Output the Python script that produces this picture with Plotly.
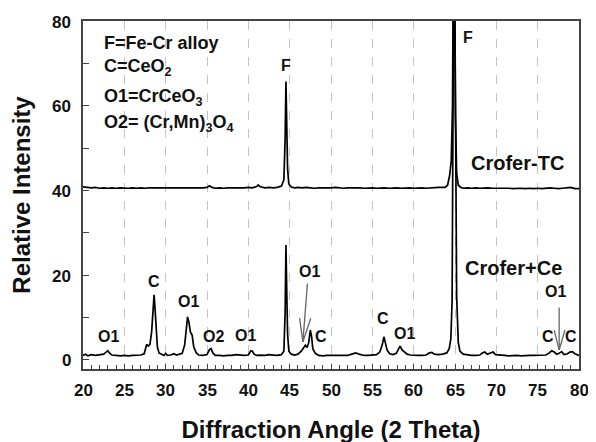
import plotly.graph_objects as go

# Crofer+Ce pattern (2-theta, relative intensity)
crofer_ce_points = [
    (20.0, 1.0), (20.3, 1.3), (20.6, 0.9), (21.0, 1.2), (21.5, 1.0), (22.0, 1.1), (22.5, 1.3),
    (22.8, 1.8), (23.0, 2.1), (23.2, 1.6), (23.5, 1.1), (24.0, 1.0), (24.5, 0.9), (25.0, 1.0),
    (25.5, 0.9), (26.0, 1.0), (26.5, 1.0), (27.0, 1.1), (27.4, 1.4), (27.7, 3.6), (27.9, 3.2),
    (28.1, 3.6), (28.3, 6.5), (28.5, 13.0), (28.6, 15.3), (28.7, 12.5), (28.8, 8.0), (29.0, 3.0),
    (29.2, 1.6), (29.5, 1.2), (29.8, 1.0), (30.0, 1.5), (30.2, 1.0), (30.6, 1.1), (31.0, 1.4),
    (31.3, 1.1), (31.6, 1.3), (32.0, 1.5), (32.3, 3.5), (32.5, 7.5), (32.65, 10.1), (32.8, 9.0),
    (33.0, 6.5), (33.2, 5.8), (33.4, 3.0), (33.7, 1.6), (34.0, 1.1), (34.5, 1.0), (35.0, 1.2),
    (35.3, 2.4), (35.5, 2.6), (35.7, 1.6), (36.0, 1.0), (36.5, 1.0), (37.0, 0.9), (37.5, 1.0),
    (38.0, 1.0), (38.5, 1.2), (39.0, 1.1), (39.5, 1.0), (40.0, 1.1), (40.3, 2.1), (40.5, 2.0),
    (40.7, 1.3), (41.0, 1.0), (41.5, 1.1), (42.0, 1.0), (42.5, 1.2), (43.0, 1.1), (43.5, 1.0),
    (44.0, 1.2), (44.3, 2.0), (44.45, 11.0), (44.55, 27.1), (44.65, 16.0), (44.75, 6.0),
    (44.9, 2.0), (45.2, 1.3), (45.6, 1.1), (46.0, 1.3), (46.4, 2.0), (46.7, 2.8), (46.9, 3.4),
    (47.1, 2.9), (47.3, 4.0), (47.5, 7.0), (47.65, 5.5), (47.8, 2.6), (48.1, 1.5), (48.5, 1.0),
    (49.0, 0.9), (49.5, 1.0), (50.0, 1.0), (50.5, 0.9), (51.0, 1.0), (51.5, 1.0), (52.0, 1.0),
    (52.5, 1.3), (53.0, 1.6), (53.4, 1.3), (54.0, 1.0), (54.5, 1.0), (55.0, 1.1), (55.5, 1.2),
    (55.9, 1.8), (56.2, 3.5), (56.4, 5.4), (56.6, 4.0), (56.8, 2.2), (57.1, 1.4), (57.5, 1.2),
    (57.9, 1.5), (58.2, 2.8), (58.35, 3.2), (58.6, 2.3), (58.9, 1.9), (59.2, 1.3), (59.6, 1.1),
    (60.0, 1.0), (60.5, 1.0), (61.0, 1.0), (61.5, 1.1), (61.9, 1.6), (62.2, 1.7), (62.5, 1.3),
    (63.0, 1.2), (63.5, 1.3), (64.0, 1.6), (64.3, 2.6), (64.5, 5.0), (64.65, 14.0), (64.75, 60.0),
    (64.85, 95.0), (64.95, 95.0), (65.05, 60.0), (65.2, 15.0), (65.4, 4.0), (65.6, 2.0),
    (66.0, 1.3), (66.5, 1.1), (67.0, 1.0), (67.5, 1.0), (68.0, 1.1), (68.3, 1.6), (68.6, 1.8),
    (68.9, 1.3), (69.3, 1.6), (69.6, 1.8), (69.9, 1.2), (70.5, 1.0), (71.0, 1.0), (71.5, 0.9),
    (72.0, 1.0), (72.5, 1.0), (73.0, 0.9), (73.5, 1.0), (74.0, 1.0), (74.5, 1.0), (75.0, 1.0),
    (75.5, 1.0), (76.0, 1.1), (76.4, 1.6), (76.7, 2.1), (77.0, 1.8), (77.3, 1.3), (77.6, 1.5),
    (77.9, 1.9), (78.2, 1.2), (78.6, 1.4), (78.9, 1.8), (79.2, 1.9), (79.5, 1.4), (80.0, 1.0),
]

# Crofer-TC pattern
crofer_tc_points = [
    (20.0, 40.8), (20.5, 40.7), (21.0, 40.6), (21.5, 40.7), (22.0, 40.5), (22.5, 40.6), (23.0, 40.5),
    (23.5, 40.6), (24.0, 40.5), (24.5, 40.6), (25.0, 40.5), (25.5, 40.5), (26.0, 40.6), (26.5, 40.5),
    (27.0, 40.6), (27.5, 40.5), (28.0, 40.6), (28.5, 40.6), (29.0, 40.5), (29.5, 40.6), (30.0, 40.5),
    (30.5, 40.6), (31.0, 40.5), (31.5, 40.6), (32.0, 40.6), (32.5, 40.5), (33.0, 40.6), (33.5, 40.6),
    (34.0, 40.5), (34.5, 40.6), (35.0, 40.7), (35.3, 41.1), (35.6, 40.7), (36.0, 40.5), (36.5, 40.6),
    (37.0, 40.5), (37.5, 40.6), (38.0, 40.6), (38.5, 40.5), (39.0, 40.6), (39.5, 40.6), (40.0, 40.7),
    (40.5, 40.6), (41.0, 40.9), (41.2, 41.3), (41.4, 40.9), (42.0, 40.6), (42.5, 40.7), (43.0, 40.6),
    (43.5, 40.7), (44.0, 41.0), (44.3, 42.5), (44.45, 52.0), (44.55, 65.7), (44.65, 55.0),
    (44.75, 45.0), (44.9, 41.5), (45.2, 40.8), (45.6, 40.6), (46.0, 40.7), (46.5, 40.6), (47.0, 40.7),
    (47.5, 40.6), (48.0, 40.5), (48.5, 40.6), (49.0, 40.6), (49.5, 40.5), (50.0, 40.6), (50.5, 40.7),
    (51.0, 40.6), (51.5, 40.5), (52.0, 40.6), (52.5, 40.6), (53.0, 40.7), (53.5, 40.6), (54.0, 40.5),
    (54.5, 40.6), (55.0, 40.6), (55.5, 40.5), (56.0, 40.6), (56.5, 40.6), (57.0, 40.5), (57.5, 40.6),
    (58.0, 40.6), (58.5, 40.5), (59.0, 40.6), (59.5, 40.6), (60.0, 40.5), (60.5, 40.6), (61.0, 40.6),
    (61.5, 40.5), (62.0, 40.6), (62.5, 40.6), (63.0, 40.7), (63.5, 40.7), (63.8, 40.7), (64.1, 41.2),
    (64.35, 43.5), (64.55, 47.0), (64.7, 60.0), (64.8, 95.0), (64.95, 95.0), (65.05, 58.0),
    (65.2, 44.0), (65.4, 41.2), (65.7, 40.7), (66.0, 40.5), (66.5, 40.6), (67.0, 40.5), (67.5, 40.6),
    (68.0, 40.5), (68.5, 40.6), (69.0, 40.6), (69.5, 40.5), (70.0, 40.5), (70.5, 40.6), (71.0, 40.5),
    (71.5, 40.5), (72.0, 40.4), (72.5, 40.5), (73.0, 40.5), (73.5, 40.4), (74.0, 40.5), (74.5, 40.4),
    (75.0, 40.5), (75.5, 40.4), (76.0, 40.5), (76.5, 40.6), (77.0, 40.5), (77.5, 40.4), (78.0, 40.5),
    (78.5, 40.6), (79.0, 40.7), (79.5, 40.4), (80.0, 40.4),
]

ce_angle = [p[0] for p in crofer_ce_points]
ce_intensity = [p[1] for p in crofer_ce_points]
tc_angle = [p[0] for p in crofer_tc_points]
tc_intensity = [p[1] for p in crofer_tc_points]

x_ticks = [20, 25, 30, 35, 40, 45, 50, 55, 60, 65, 70, 75, 80]
y_ticks = [0, 20, 40, 60, 80]

legend_lines = ["F=Fe-Cr alloy", "C=CeO<sub>2</sub>", "O1=CrCeO<sub>3</sub>",
                "O2= (Cr,Mn)<sub>3</sub>O<sub>4</sub>"]
legend_y = [74.8, 69.0, 62.0, 55.8]

# peak labels: (text, angle, intensity)
peak_labels = [
    ("F", 44.5, 69.6), ("F", 66.6, 76.0),
    ("O1", 23.1, 5.4), ("C", 28.6, 18.4), ("O1", 32.8, 13.7), ("O2", 35.8, 5.4),
    ("O1", 39.6, 5.8), ("O1", 47.4, 20.8), ("C", 48.8, 5.4), ("C", 56.35, 9.7),
    ("O1", 58.85, 6.2), ("O1", 77.2, 16.0), ("C", 76.3, 5.4), ("C", 79.0, 5.4),
]
sample_labels = [("Crofer-TC", 72.5, 46.4), ("Crofer+Ce", 72.1, 21.6)]

FONT = "Liberation Sans, Arial, Helvetica, sans-serif"
TXT = "#111111"

fig = go.Figure()
fig.add_trace(go.Scatter(x=ce_angle, y=ce_intensity, mode="lines",
                         line=dict(color="black", width=1.7), showlegend=False))
fig.add_trace(go.Scatter(x=tc_angle, y=tc_intensity, mode="lines",
                         line=dict(color="black", width=1.7), showlegend=False))

annotations = []
for t, yy in zip(legend_lines, legend_y):
    annotations.append(dict(x=22.3, y=yy, text="<b>" + t + "</b>", showarrow=False, xanchor="left",
                            yanchor="middle", font=dict(family=FONT, size=18, color=TXT)))
for t, xx, yy in peak_labels:
    annotations.append(dict(x=xx, y=yy, text="<b>" + t + "</b>", showarrow=False, xanchor="center",
                            yanchor="middle", font=dict(family=FONT, size=16, color=TXT)))
for t, xx, yy in sample_labels:
    annotations.append(dict(x=xx, y=yy, text="<b>" + t + "</b>", showarrow=False, xanchor="center",
                            yanchor="middle", font=dict(family=FONT, size=20, color=TXT)))

# tick labels
for v in x_ticks:
    annotations.append(dict(x=v, xref="x", y=0, yref="paper", yanchor="middle", xanchor="center",
                            yshift=-21, text="<b>%d</b>" % v, showarrow=False,
                            font=dict(family=FONT, size=17, color=TXT)))
for v in y_ticks:
    annotations.append(dict(x=0, xref="paper", y=v, yref="y", xanchor="right", yanchor="middle",
                            xshift=-10, yshift=-1, text="<b>%d</b>" % v, showarrow=False,
                            font=dict(family=FONT, size=17, color=TXT)))

arrow_color = "#666666"
shapes = []
for (x0, y0, x1, y1) in [(47.15, 18.0, 46.6, 4.2), (46.2, 9.8, 46.6, 4.2), (47.55, 9.8, 46.6, 4.2),
                         (77.6, 12.3, 77.6, 2.3), (77.0, 7.0, 77.6, 2.3), (78.3, 7.0, 77.6, 2.3)]:
    shapes.append(dict(type="line", xref="x", yref="y", x0=x0, y0=y0, x1=x1, y1=y1,
                       line=dict(color=arrow_color, width=1.3)))

# the page adds an 8px body margin, so the figure is laid out 8px up/left
fig.update_layout(
    width=596, height=442,
    margin=dict(l=75, r=25, t=13, b=81, autoexpand=False),
    paper_bgcolor="white", plot_bgcolor="white",
    annotations=annotations, shapes=shapes,
    font=dict(family=FONT, color=TXT),
)
fig.update_xaxes(
    range=[20, 80], tickvals=x_ticks, showticklabels=False, automargin=False,
    ticks="inside", ticklen=5, tickwidth=1.2, tickcolor="#444",
    minor=dict(dtick=1, ticks="inside", ticklen=4, tickwidth=1, tickcolor="#444", showgrid=False),
    showgrid=True, gridcolor="#c4c4c4", griddash="dash", gridwidth=1.2,
    showline=True, linecolor="#444", linewidth=2, mirror=True, zeroline=False,
    title=dict(text="<b>Diffraction Angle (2 Theta)</b>", standoff=51,
               font=dict(family=FONT, size=24, color=TXT)),
)
fig.update_yaxes(
    range=[-2.2, 80], tickvals=y_ticks, showticklabels=False, automargin=False,
    ticks="inside", ticklen=6, tickwidth=1.2, tickcolor="#444",
    minor=dict(dtick=10, ticks="inside", ticklen=6, tickwidth=1.2, tickcolor="#444", showgrid=False),
    showgrid=False, showline=True, linecolor="#444", linewidth=2, mirror=True, zeroline=False,
    title=dict(text="<b>Relative Intensity</b>", standoff=49,
               font=dict(family=FONT, size=24, color=TXT)),
)

fig.write_html("out.html")
